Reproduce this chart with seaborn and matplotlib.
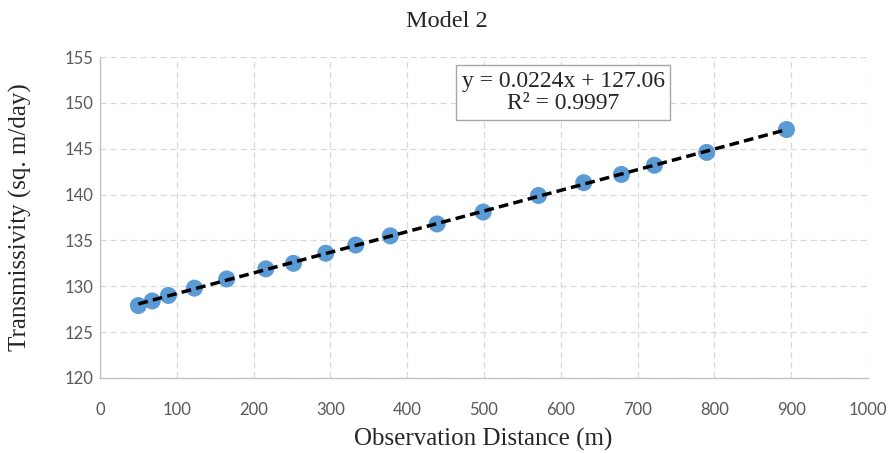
import numpy as np
import pandas as pd
import seaborn as sns
import matplotlib.pyplot as plt

# values
distance = [50, 68, 89, 123, 165, 216, 252, 294, 333, 378, 439, 499, 571, 630, 679, 722, 790, 894]
transmissivity = [127.9, 128.4, 129.0, 129.8, 130.8, 131.9, 132.5, 133.6, 134.5, 135.5,
                  136.8, 138.1, 139.9, 141.3, 142.2, 143.2, 144.6, 147.1]
x_ticks = list(range(0, 1001, 100))
y_ticks = list(range(120, 156, 5))
equation_text = "y = 0.0224x + 127.06\nR\u00b2 = 0.9997"

df = pd.DataFrame({"distance": distance, "transmissivity": transmissivity})

sns.set_style("white")
grid_col = "#d9d9d9"
tick_col = "#595959"

fig = plt.figure(figsize=(8.96, 4.53), dpi=100)
ax = fig.add_axes([0.1116, 0.1656, 0.857, 0.7084])

sns.scatterplot(data=df, x="distance", y="transmissivity", ax=ax, s=150,
                color="#5B9BD5", edgecolor="none", zorder=3)
sns.regplot(data=df, x="distance", y="transmissivity", ax=ax, ci=None, scatter=False,
            line_kws=dict(color="black", lw=2.5, ls=(0, (2.8, 1.5)), zorder=4))

ax.set_xlim(0, 1000)
ax.set_ylim(120, 155)
ax.set_xticks(x_ticks)
ax.set_yticks(y_ticks)
ax.grid(True, color=grid_col, ls=(0, (5, 3)), lw=0.9)
ax.set_axisbelow(True)

for side in ["top", "right"]:
    ax.spines[side].set_visible(False)
for side in ["left", "bottom"]:
    ax.spines[side].set_color("#bfbfbf")
    ax.spines[side].set_linewidth(0.9)

ax.tick_params(axis="both", length=3, color="#bfbfbf", labelcolor=tick_col, labelsize=12)
for lbl in ax.get_xticklabels() + ax.get_yticklabels():
    lbl.set_family(["Lato", "DejaVu Sans"])
ax.tick_params(axis="x", pad=14)
ax.tick_params(axis="y", pad=2)

serif = ["Liberation Serif", "DejaVu Serif"]
ax.set_xlabel("Observation Distance (m)", family=serif, fontsize=18, color="#262626", va="center")
ax.set_ylabel("Transmissivity (sq. m/day)", family=serif, fontsize=18, color="#262626", va="center")
ax.xaxis.set_label_coords(0.5 + (483 - 484) / 768, -0.193)
ax.yaxis.set_label_coords(-0.104, 0.5)
fig.text(0.499, 0.953, "Model 2", family=serif, fontsize=17.5, color="#262626", ha="center", va="center")

ax.text(0.603, 0.889, equation_text, transform=ax.transAxes, family=serif, fontsize=17,
        color="#262626", ha="center", va="center", linespacing=1.1,
        bbox=dict(boxstyle="square,pad=0.25", fc="white", ec="#a6a6a6", lw=1))

fig.savefig("out.png", dpi=100)
